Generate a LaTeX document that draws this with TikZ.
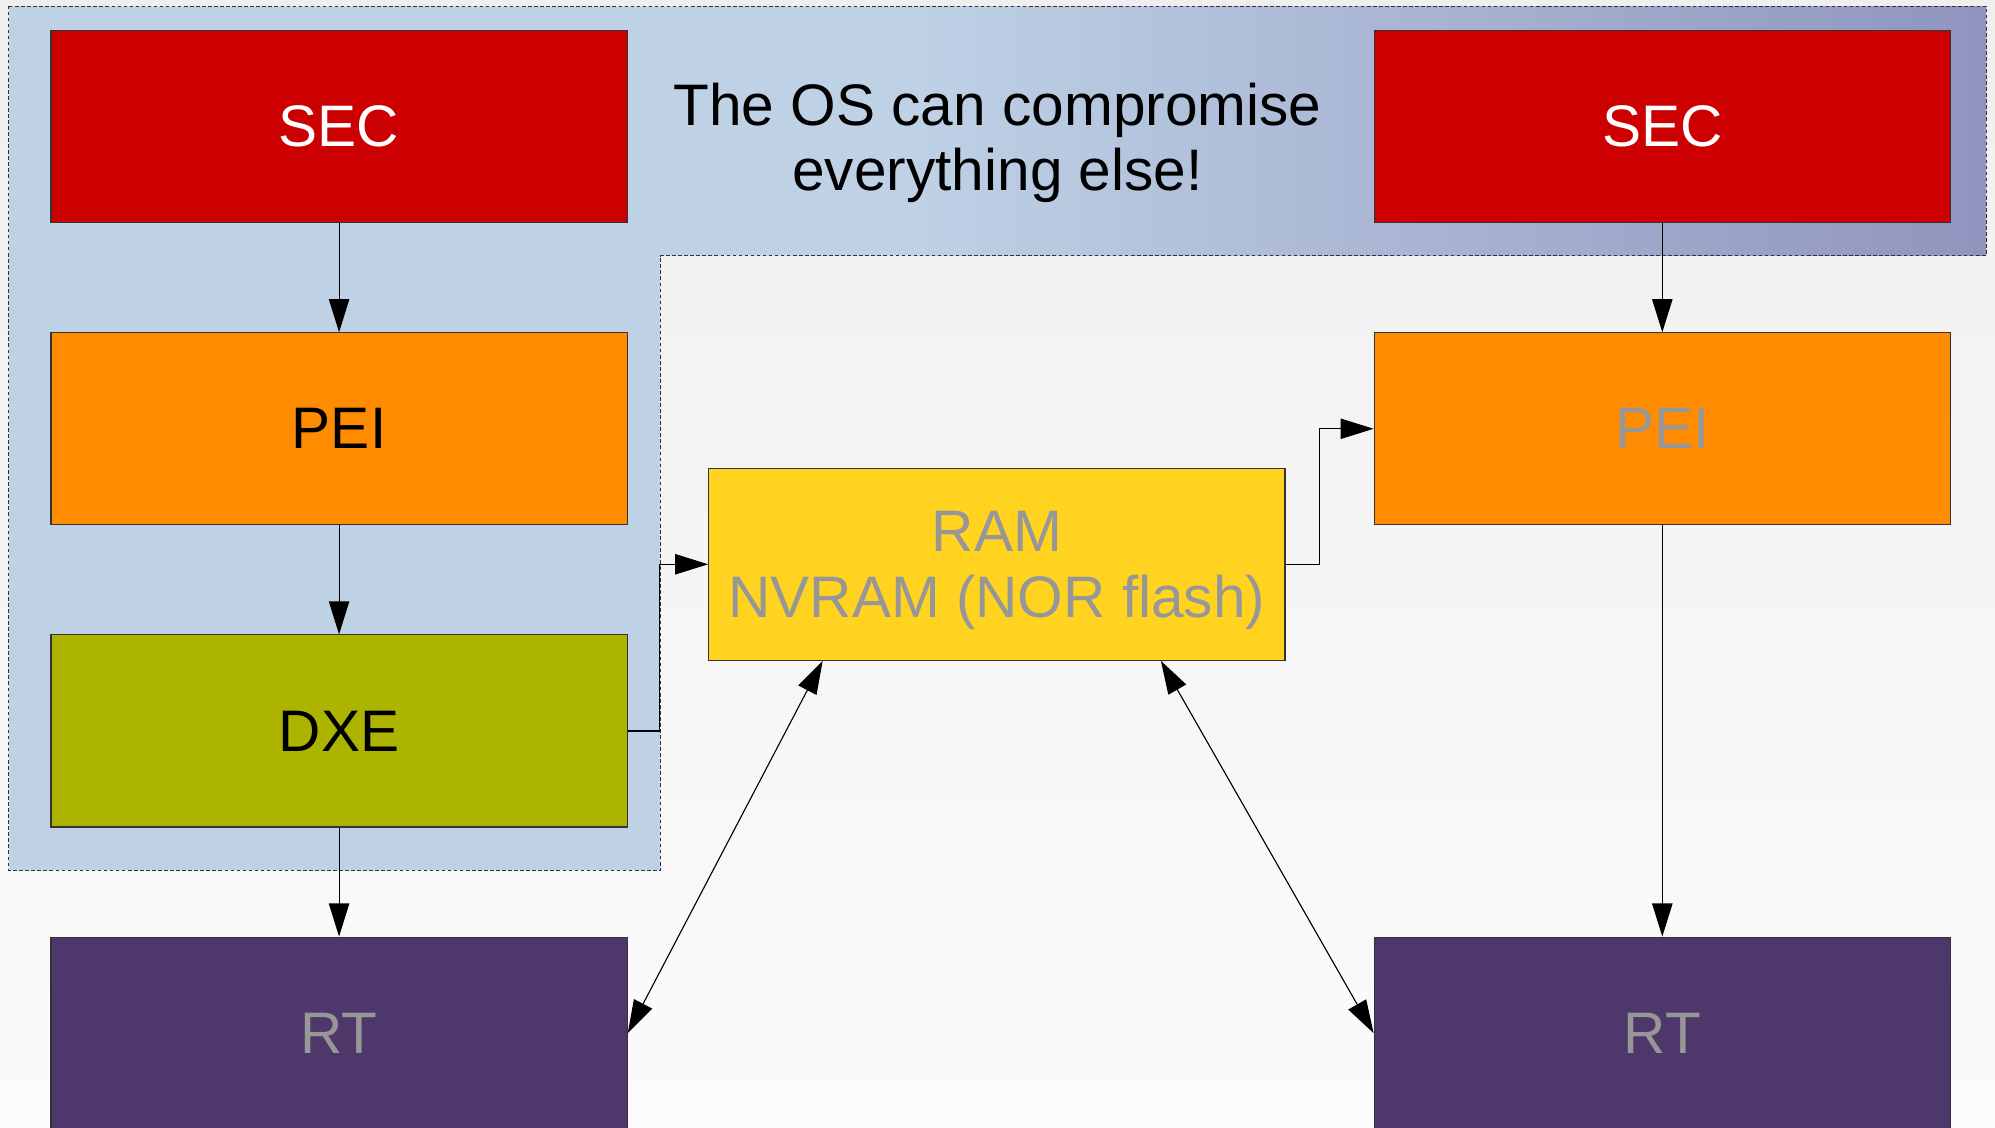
\documentclass[tikz,border=0pt]{standalone}
\usepackage{fontspec}
\setmainfont{Liberation Sans}
\usetikzlibrary{arrows.meta}

\definecolor{secred}{HTML}{CC0000}
\definecolor{peiorange}{HTML}{FF8C00}
\definecolor{dxegreen}{HTML}{ACB400}
\definecolor{ramyellow}{HTML}{FFD320}
\definecolor{rtpurple}{HTML}{4E386B}
\definecolor{zoneblue}{HTML}{BED1E5}
\definecolor{zonepurple}{HTML}{9094BE}
\definecolor{dimtext}{HTML}{979797}
\definecolor{edgegray}{HTML}{333333}
\definecolor{bgtop}{HTML}{EFEFEF}
\definecolor{bgbottom}{HTML}{FBFBFB}

\tikzset{
  bigtext/.style={font=\fontsize{26.2}{29.2}\selectfont},
  stage/.style={draw=edgegray, line width=0.5pt, minimum width=9.06cm,
    minimum height=3.02cm, inner sep=0pt, bigtext, align=center},
  tipshape/.tip={Triangle[length=0.52cm,width=0.32cm]},
  conn/.style={draw=black, line width=0.5pt, -tipshape},
  bothway/.style={draw=black, line width=0.5pt, tipshape-tipshape},
  zoneedge/.style={draw=edgegray, line width=0.5pt, dash pattern=on 1.6pt off 1.1pt}
}

\begin{document}
\begin{tikzpicture}[x=0.02cm, y=-0.02cm]
  \useasboundingbox (0,0) rectangle (1568,886);
  \clip (0,0) rectangle (1568,886);

  % page background
  \shade[top color=bgtop, bottom color=bgbottom] (0,0) rectangle (1568,886);

  % region the OS can reach
  \fill[zoneblue] (7,5) -- (1561,5) -- (1561,201) -- (519,201) -- (519,684) -- (7,684) -- cycle;
  \shade[left color=zoneblue, right color=zonepurple] (720,5) rectangle (1561,201);
  \draw[zoneedge] (7,5) -- (1561,5) -- (1561,201) -- (519,201) -- (519,684) -- (7,684) -- cycle;

  % boot stages, left chain
  \node[stage, fill=secred, text=white]   (sec1) at (266.5,99.5)  {SEC};
  \node[stage, fill=peiorange, text=black] (pei1) at (266.5,337)   {PEI};
  \node[stage, fill=dxegreen, text=black]  (dxe1) at (266.5,574.5) {DXE};
  \node[stage, fill=rtpurple, text=dimtext] (rt1) at (266.5,812)   {RT};

  % boot stages, right chain
  \node[stage, fill=secred, text=white]    (sec2) at (1306.5,99.5) {SEC};
  \node[stage, fill=peiorange, text=dimtext] (pei2) at (1306.5,337) {PEI};
  \node[stage, fill=rtpurple, text=dimtext] (rt2) at (1306.5,812)  {RT};

  % shared storage
  \node[stage, fill=ramyellow, text=dimtext] (ram) at (783.5,443.5)
    {\rule{0pt}{23.6pt}RAM\\NVRAM (NOR flash)};

  % warning
  \node[bigtext, align=center, text=black] (warn) at (784,112.5) {The OS can compromise\\everything else!};

  % flow
  \draw[conn] (sec1) -- (pei1);
  \draw[conn] (pei1) -- (dxe1);
  \draw[conn] (dxe1) -- (rt1);
  \draw[conn] (sec2) -- (pei2);
  \draw[conn] (pei2) -- (rt2);
  \draw[conn] (dxe1.east) -- ++(25,0) |- (ram.west);
  \draw[conn] (ram.east) -- ++(27,0) |- (pei2.west);
  \draw[bothway] ([xshift=1.8cm]ram.south west) -- (rt1.east);
  \draw[bothway] ([xshift=-1.96cm]ram.south east) -- (rt2.west);
\end{tikzpicture}
\end{document}
